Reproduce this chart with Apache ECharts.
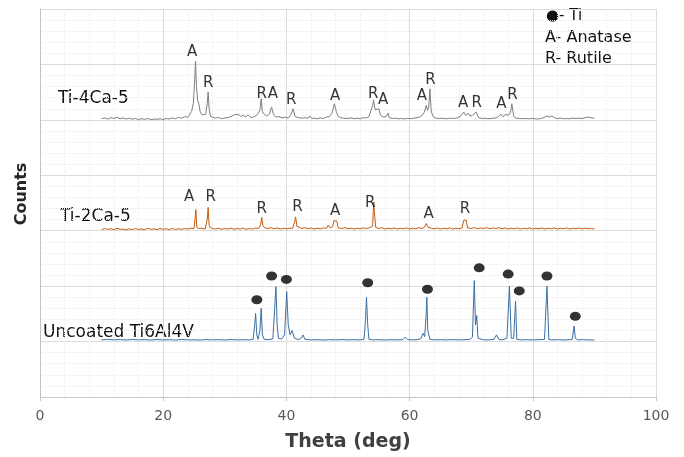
<!DOCTYPE html>
<html>
<head>
<meta charset="utf-8">
<script src="https://cdn.jsdelivr.net/npm/echarts@6/dist/echarts.min.js"></script>
<style>
  html, body { margin: 0; padding: 0; background: #fff; }
  #chart { width: 684px; height: 457px; }
</style>
</head>
<body>
<div id="chart"></div>
<script>
// offsets used to stack the three patterns
var offsetTi4 = 5000;
var offsetTi2 = 3000;
var offsetBare = 1000;

// Ti-4Ca-5 [theta, counts]
var ti4Data = [
  [10,20],[10.5,35],[11,15],[11.5,40],[12,25],[12.5,45],[13,20],[13.5,35],[14,15],[14.5,30],
  [15,10],[15.5,25],[16,5],[16.5,20],[17,10],[17.5,25],[18,5],[18.5,15],[19,10],[19.5,20],
  [20,5],[20.5,25],[21,15],[21.5,35],[22,20],[22.5,45],[23,30],[23.5,60],[24,45],[24.3,80],
  [24.6,150],[24.9,300],[25.1,700],[25.25,1060],[25.4,600],[25.6,350],[25.8,280],[26.0,150],[26.3,90],[26.6,70],
  [26.9,100],[27.15,300],[27.3,500],[27.45,200],[27.7,60],[28,50],[28.5,30],[29,45],[29.5,20],[30,35],
  [30.5,40],[31,60],[31.5,90],[31.8,70],[32.2,100],[32.6,60],[33,85],[33.4,50],[33.8,90],[34.2,40],
  [34.6,50],[35,70],[35.4,110],[35.7,180],[35.9,380],[36.1,150],[36.4,100],[36.8,70],[37.2,100],[37.6,230],
  [37.9,100],[38.3,50],[38.8,60],[39.3,35],[39.8,50],[40.3,30],[40.7,90],[41.1,200],[41.4,60],[42,40],
  [42.5,30],[43,40],[43.5,30],[43.8,70],[44.1,25],[44.5,30],[45,20],[45.5,35],[46,25],[46.5,50],
  [47,60],[47.4,120],[47.8,290],[48.1,150],[48.4,60],[48.8,40],[49.3,30],[50,25],[50.5,35],[51,20],
  [51.5,30],[52,20],[52.5,40],[53,35],[53.4,60],[53.7,160],[54.0,260],[54.15,360],[54.4,180],[54.7,150],
  [55.0,200],[55.3,80],[55.8,50],[56.2,60],[56.5,120],[56.7,40],[57.2,25],[57.7,30],[58.2,20],[58.7,25],
  [59.2,15],[59.7,30],[60.2,20],[60.7,30],[61.2,40],[61.6,50],[62.0,80],[62.4,140],[62.7,260],[62.9,170],
  [63.1,230],[63.3,560],[63.5,160],[63.8,60],[64.2,35],[64.8,25],[65.3,30],[65.8,20],[66.3,25],[66.8,30],
  [67.3,25],[67.8,40],[68.3,70],[68.8,140],[69.1,80],[69.5,120],[69.8,70],[70.2,80],[70.5,60],[70.8,140],
  [71.2,40],[71.7,25],[72.2,30],[72.7,20],[73.2,25],[73.7,30],[74.2,40],[74.5,60],[74.8,100],[75.2,60],
  [75.6,100],[76.0,80],[76.4,140],[76.6,290],[76.9,60],[77.3,30],[77.8,25],[78.3,20],[78.8,25],[79.3,20],
  [79.8,25],[80.3,20],[80.8,15],[81.3,25],[81.8,40],[82.3,70],[82.7,50],[83.1,70],[83.5,40],[84,25],
  [84.5,30],[85,20],[85.5,25],[86,20],[86.5,30],[87,25],[87.5,30],[88,25],[88.5,40],[89,50],
  [89.3,75],[89.6,35],[90,30]
];

// Ti-2Ca-5 [theta, counts]
var ti2Data = [
  [10,20],[10.5,40],[11,25],[11.5,35],[12,20],[12.5,45],[13,25],[13.5,30],[14,15],[14.5,35],
  [15,20],[15.5,40],[16,25],[16.5,30],[17,20],[17.5,45],[18,25],[18.5,35],[19,20],[19.5,40],
  [20,25],[20.5,35],[21,20],[21.5,40],[22,25],[22.5,35],[23,25],[23.5,40],[24,30],[24.5,45],
  [25,40],[25.15,200],[25.3,380],[25.45,60],[25.8,40],[26.3,45],[26.8,30],[27.0,0],[27.15,200],[27.3,420],
  [27.45,100],[27.6,60],[28,40],[28.5,30],[29,45],[29.5,25],[30,40],[30.5,30],[31,45],[31.5,25],
  [32,40],[32.5,30],[33,45],[33.5,25],[34,40],[34.5,30],[35,50],[35.5,40],[35.8,100],[36.0,240],
  [36.2,90],[36.5,50],[37,40],[37.5,55],[38,35],[38.5,50],[39,30],[39.5,45],[40,35],[40.5,45],
  [41.0,40],[41.3,150],[41.5,250],[41.7,80],[42,60],[42.5,40],[43,55],[43.5,35],[44,50],[44.5,30],
  [45,45],[45.5,35],[46,50],[46.5,45],[46.8,100],[47.1,50],[47.5,70],[47.7,180],[48.0,190],[48.2,170],
  [48.4,50],[49,40],[49.5,55],[50,35],[50.5,45],[51,30],[51.5,45],[52,35],[52.5,50],[53,40],
  [53.5,55],[54.0,80],[54.1,350],[54.2,520],[54.3,300],[54.5,60],[55,40],[55.5,55],[56,30],[56.5,45],
  [57,35],[57.5,50],[58,30],[58.5,45],[59,35],[59.5,50],[60,30],[60.5,45],[61,35],[61.5,55],
  [62,40],[62.4,60],[62.7,130],[63.0,60],[63.5,45],[64,35],[64.5,50],[65,30],[65.5,45],[66,35],
  [66.5,50],[67,30],[67.5,45],[68,35],[68.5,50],[68.8,190],[69.0,200],[69.2,190],[69.4,50],[70,40],
  [70.5,55],[71,35],[71.5,50],[72,40],[72.5,55],[73,35],[73.5,50],[74,40],[74.5,55],[75,35],
  [75.5,50],[76,30],[76.5,45],[77,35],[77.5,50],[78,30],[78.5,45],[79,35],[79.5,50],[80,30],
  [80.5,45],[81,35],[81.5,50],[82,30],[82.5,45],[83,35],[83.5,50],[84,30],[84.5,45],[85,35],
  [85.5,50],[86,30],[86.5,45],[87,35],[87.5,50],[88,30],[88.5,45],[89,35],[89.5,40],[90,30]
];

// Uncoated Ti6Al4V [theta, counts]
var bareData = [
  [10,30],[11,40],[12,30],[13,36],[14,28],[15,38],[16,30],[17,35],[18,28],[19,36],
  [20,30],[21,34],[22,28],[23,38],[24,30],[25,32],[26,28],[27,36],[28,30],[29,34],
  [30,28],[31,36],[32,30],[33,34],[34,30],[34.6,40],[34.85,300],[35.0,510],[35.2,120],[35.4,40],
  [35.7,200],[35.9,600],[36.1,120],[36.4,40],[37,35],[37.8,50],[38.1,600],[38.3,990],[38.5,300],[38.7,60],
  [39.2,45],[39.7,120],[40.05,900],[40.3,300],[40.6,120],[40.9,200],[41.3,60],[42,35],[42.4,60],[42.7,120],
  [43.0,40],[44,30],[45,34],[46,28],[47,34],[48,30],[49,36],[50,30],[51,34],[52,30],
  [52.6,40],[52.85,400],[53.0,800],[53.2,300],[53.4,40],[54,30],[55,34],[56,28],[57,34],[58,30],
  [58.9,35],[59.3,80],[59.7,35],[60.5,30],[61.2,34],[61.8,50],[62.2,150],[62.45,90],[62.7,500],[62.8,800],
  [62.95,200],[63.3,40],[64,30],[65,34],[66,30],[67,36],[68,30],[69,34],[69.8,40],[70.2,80],[70.5,1100],
  [70.7,300],[70.9,470],[71.1,60],[72,30],[73,32],[73.7,40],[74.1,120],[74.5,40],[75,30],[75.8,60],
  [76.2,1000],[76.5,60],[76.9,60],[77.2,730],[77.4,40],[78,30],[79,34],[80,30],[81,34],[81.9,40],
  [82.3,1000],[82.6,40],[83,30],[84,34],[85,30],[86,34],[86.4,40],[86.7,280],[86.9,60],[87.3,30],
  [88,34],[89,30],[90,30]
];

// phase labels [theta, position, text]
var ti4Labels = [
  [24.7,6223,'A'],[27.3,5670,'R'],[36.0,5473,'R'],[37.8,5473,'A'],[40.8,5348,'R'],
  [47.9,5420,'A'],[54.1,5473,'R'],[55.7,5354,'A'],[62.0,5425,'A'],[63.4,5711,'R'],
  [68.7,5295,'A'],[70.9,5307,'R'],[74.9,5282,'A'],[76.7,5443,'R']
];
var ti2Labels = [
  [24.2,3598,'A'],[27.7,3598,'R'],[36.0,3389,'R'],[41.8,3432,'R'],
  [47.9,3348,'A'],[53.6,3491,'R'],[63.1,3300,'A'],[69.0,3389,'R']
];
// Ti peak markers [theta, position]
var tiDots = [
  [35.2,1754],[37.6,2182],[40.0,2121],[53.2,2062],[62.9,1943],
  [71.3,2330],[76.0,2218],[77.8,1914],[82.3,2182],[86.9,1455]
];

var xTicks = [0, 20, 40, 60, 80, 100];

function shift(data, off) {
  return data.map(function (d) { return [d[0], d[1] + off]; });
}

var textFont = "DejaVu Sans";

var myChart = echarts.init(document.getElementById("chart"));
var option = {
  animation: false,
  backgroundColor: "#fff",
  grid: { left: 40, right: 28, top: 9, bottom: 56 },
  xAxis: {
    type: "value",
    min: xTicks[0],
    max: xTicks[xTicks.length - 1],
    interval: 20,
    name: "Theta (deg)",
    nameLocation: "middle",
    nameGap: 36,
    nameTextStyle: { fontFamily: textFont, fontSize: 19, fontWeight: "bold", color: "#404040" },
    axisLine: { lineStyle: { color: "#c8c8c8" } },
    axisTick: { show: true, length: 4, lineStyle: { color: "#c8c8c8" } },
    axisLabel: { fontFamily: textFont, fontSize: 14, color: "#595959", margin: 12 },
    splitLine: { show: true, lineStyle: { color: "#dcdcdc", width: 1 } },
    minorTick: { show: false, splitNumber: 5 },
    minorSplitLine: { show: true, lineStyle: { color: "#ececec", type: "dotted" } }
  },
  yAxis: {
    type: "value",
    min: 0,
    max: 7000,
    interval: 1000,
    axisLine: { show: true, lineStyle: { color: "#c0c0c0" } },
    axisTick: { show: false },
    axisLabel: { show: false },
    splitLine: { show: true, lineStyle: { color: "#dcdcdc", width: 1 } },
    minorTick: { show: false, splitNumber: 5 },
    minorSplitLine: { show: true, lineStyle: { color: "#ececec", type: "dotted" } }
  },
  graphic: [
    {
      type: "text", x: 22, y: 194, rotation: Math.PI / 2,
      style: { text: "Counts", font: "bold 16px " + textFont, fill: "#262626", align: "center", verticalAlign: "middle" }
    },
    { type: "text", left: 58, top: 90, style: { text: "Ti-4Ca-5", font: "17px " + textFont, fill: "#111" } },
    { type: "text", left: 60, top: 208, style: { text: "Ti-2Ca-5", font: "17px " + textFont, fill: "#111" } },
    { type: "text", left: 43, top: 324, style: { text: "Uncoated Ti6Al4V", font: "17px " + textFont, fill: "#111" } },
    { type: "text", left: 546, top: 9, style: { text: "\u25cf- Ti", font: "15px " + textFont, fill: "#111" } },
    { type: "text", left: 545, top: 30, style: { text: "A- Anatase", font: "16px " + textFont, fill: "#111" } },
    { type: "text", left: 545, top: 51, style: { text: "R- Rutile", font: "16px " + textFont, fill: "#111" } }
  ],
  series: [
    {
      name: "Ti-4Ca-5",
      type: "line",
      data: shift(ti4Data, offsetTi4),
      showSymbol: false,
      lineStyle: { color: "#7f7f7f", width: 1 }
    },
    {
      name: "Ti-2Ca-5",
      type: "line",
      data: shift(ti2Data, offsetTi2),
      showSymbol: false,
      lineStyle: { color: "#c55a11", width: 1 }
    },
    {
      name: "Uncoated Ti6Al4V",
      type: "line",
      data: shift(bareData, offsetBare),
      showSymbol: false,
      lineStyle: { color: "#3b6fa3", width: 1 }
    },
    {
      type: "scatter",
      data: ti4Labels.concat(ti2Labels),
      symbolSize: 1,
      itemStyle: { color: "rgba(0,0,0,0)" },
      label: {
        show: true,
        position: "inside",
        formatter: function (p) { return p.value[2]; },
        fontFamily: textFont,
        fontSize: 15,
        color: "#000"
      },
      z: 5
    },
    {
      type: "scatter",
      data: tiDots,
      symbol: "circle",
      symbolSize: [11, 9],
      itemStyle: { color: "#000" },
      z: 5
    }
  ]
};
myChart.setOption(option);
</script>
</body>
</html>
